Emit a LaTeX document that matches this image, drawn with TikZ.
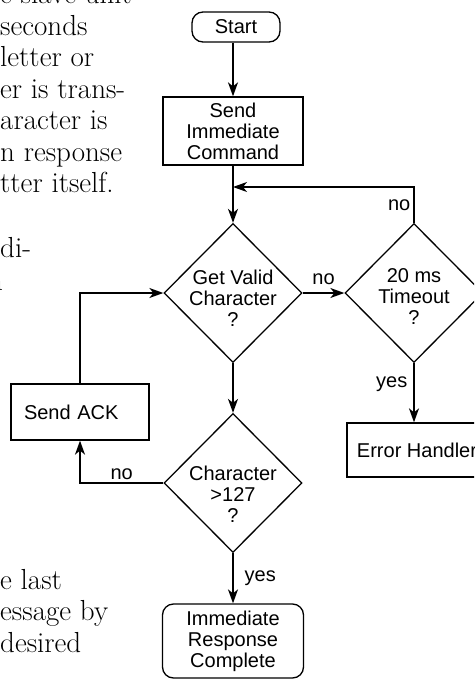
\documentclass[tikz,border=0pt]{standalone}
\usepackage{fontspec}
\setsansfont{Liberation Sans}
\usetikzlibrary{arrows.meta,positioning,shapes.geometric}

\tikzset{
  chart/.style={font=\sffamily\fontsize{20}{21}\selectfont, align=center},
  process/.style={chart, draw, line width=1.3pt, rectangle, minimum width=140pt, inner sep=0pt},
  terminal/.style={process, rounded corners=11pt},
  decision/.style={draw, line width=1.3pt, diamond, minimum width=138pt, minimum height=139pt, inner sep=0pt},
  flow/.style={line width=1.4pt, -{Stealth[length=14pt,width=10pt,inset=4pt]}},
  lbl/.style={chart, inner sep=3pt},
  body/.style={font=\fontsize{29}{31.5}\selectfont, inner sep=0pt, anchor=base west},
}

\begin{document}
\begin{tikzpicture}[x=1pt, y=-1pt]
    \useasboundingbox (0,0) rectangle (474,679);
    \clip (0,0) rectangle (474,679);

    % Running text cut off at the left
    \foreach \t [count=\i] in {e slave unit, seconds, letter or, er is trans-, aracter is, n response, tter itself.}
      \node[body] (top\i) at (0,{4+31.5*(\i-1)}) {\t};
    \node[body] (mid1) at (0,257) {di-};
    \node[body] (mid2) at (-12,290) {n};
    \foreach \t [count=\i] in {e last, essage by, desired}
      \node[body] (bot\i) at (0,{589+31.5*(\i-1)}) {\t};

    % Boxes
    \node[terminal, minimum height=30pt, minimum width=88pt] (start) at (236,27) {Start};
    \node[process, minimum height=68pt] (cmd) at (233,131) {Send\\Immediate\\Command};
    \node[decision, label={[chart, yshift=-5pt]center:Get Valid\\Character\\?}] (getchar) at (233,293) {};
    \node[decision, label={[chart, yshift=-4pt]center:20 ms\\Timeout\\?}] (timeout) at (414,293) {};
    \node[decision, label={[chart, yshift=-11pt]center:Character\\>127\\?}] (bigchar) at (233,483) {};
    \node[process, minimum height=56pt, minimum width=138pt, text width=112pt, align=left] (ack) at (80,412) {Send ACK};
    \node[process, minimum height=54pt] (errh) at (417,450) {Error Handler};
    \node[terminal, minimum height=74pt, minimum width=141pt] (resp) at (233,641) {Immediate\\Response\\Complete};

    % Connectors
    \coordinate (retry) at (233,187);
    \draw[flow] (start.south -| cmd.north) -- (cmd);
    \draw[flow] (cmd) -- (getchar);
    \draw[flow] (timeout.north) |- node[lbl, pos=0.25, left] {no} (retry);
    \draw[flow] (getchar) -- node[lbl, above=5pt] {no} (timeout);
    \draw[flow] (timeout.south) -- node[lbl, pos=0.35, left, xshift=-3pt] {yes} (timeout.south |- errh.north);
    \draw[flow] (getchar) -- (bigchar);
    \draw[flow] (bigchar) -- node[lbl, right=8pt] {yes} (resp);
    \draw[flow] (bigchar.west) -| node[lbl, pos=0.25, above] {no} (ack.south);
    \draw[flow] (ack.north) |- (getchar.west);
\end{tikzpicture}
\end{document}
